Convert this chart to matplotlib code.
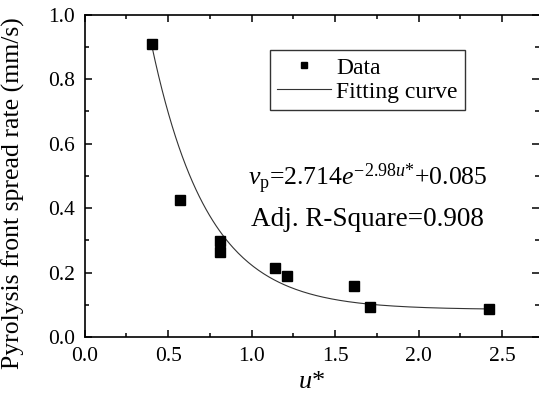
import numpy as np
from matplotlib import pyplot as plt
from matplotlib.ticker import MultipleLocator

plt.rcParams['font.family'] = ['Liberation Serif', 'DejaVu Serif']
plt.rcParams['mathtext.fontset'] = 'custom'
plt.rcParams['mathtext.rm'] = 'Liberation Serif'
plt.rcParams['mathtext.it'] = 'Liberation Serif:italic'

# measured points
u_data = [0.402, 0.568, 0.811, 0.811, 1.141, 1.214, 1.614, 1.710, 2.422]
v_data = [0.910, 0.424, 0.298, 0.263, 0.213, 0.189, 0.158, 0.094, 0.086]

# fit parameters (from the chart's equation)
fit_a = 2.714
fit_b = 2.98
fit_c = 0.085

u_fit = np.linspace(min(u_data), max(u_data), 200)
v_fit = fit_a*np.exp(-fit_b*u_fit) + fit_c

fig = plt.figure(figsize=(5.39, 3.94), dpi=100)
ax = fig.add_axes([0.157, 0.1447, 0.843, 0.818])

ax.plot(u_fit, v_fit, color='#333333', lw=0.8, label='Fitting curve')
ax.plot(u_data, v_data, 's', color='black', ms=6.5, ls='none', label='Data')

ax.set_xlim(0, 2.72)
ax.set_ylim(0, 1.0)
ax.xaxis.set_major_locator(MultipleLocator(0.5))
ax.xaxis.set_minor_locator(MultipleLocator(0.25))
ax.yaxis.set_major_locator(MultipleLocator(0.2))
ax.yaxis.set_minor_locator(MultipleLocator(0.1))
ax.xaxis.set_major_formatter('{x:.1f}')
ax.yaxis.set_major_formatter('{x:.1f}')
ax.tick_params(which='both', direction='in', top=True, right=True, width=1.1, labelsize=15.5)
ax.tick_params(which='major', length=5, pad=7)
ax.tick_params(which='minor', length=3)
for s in ['left', 'bottom', 'top']:
    ax.spines[s].set_linewidth(1.2)
ax.spines['right'].set_visible(False)

ax.set_xlabel(r'$u$*', fontsize=19, va='baseline')
ax.xaxis.set_label_coords(0.5, -0.158)
ax.set_ylabel('Pyrolysis front spread rate (mm/s)', fontsize=18.5)
ax.yaxis.set_label_coords(-0.131, 0.447)

h, l = ax.get_legend_handles_labels()
leg = ax.legend([h[1], h[0]], [l[1], l[0]], loc='upper left', bbox_to_anchor=(0.408, 0.89),
                borderaxespad=0, fontsize=17, fancybox=False, edgecolor='black',
                handlelength=2.3, handletextpad=0.2, borderpad=0.3, labelspacing=0.1,
                markerscale=0.75)
leg.get_frame().set_linewidth(1.0)

ax.text(0.36, 0.47, r'$v_\mathrm{p}$=2.714$e^{-2.98u\mathrm{*}}$+0.085', transform=ax.transAxes, fontsize=18.5)
ax.text(0.366, 0.345, 'Adj. R-Square=0.908', transform=ax.transAxes, fontsize=19.5)

plt.savefig('out.png', dpi=100)
